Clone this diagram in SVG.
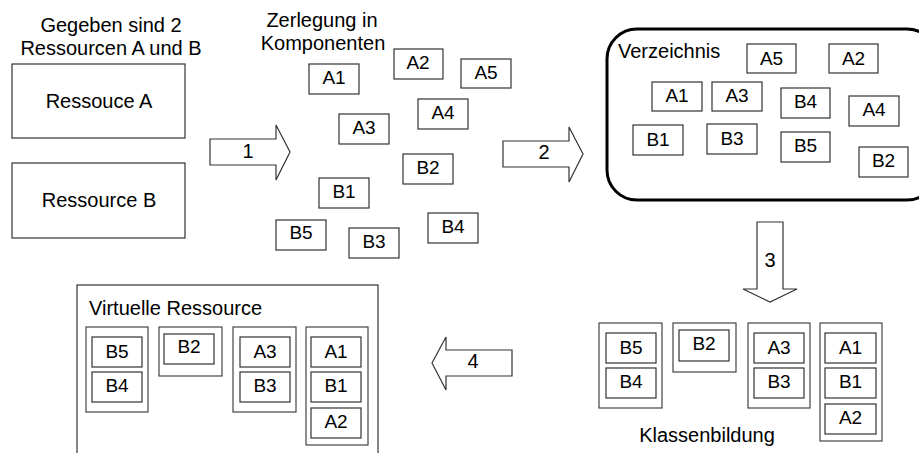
<svg xmlns="http://www.w3.org/2000/svg" width="919" height="453" viewBox="0 0 919 453">
  <style>
    text { font-family: "Liberation Sans", Arial, sans-serif; fill: #000; }
    .t { font-size: 20px; }
    .c { font-size: 19px; text-anchor: middle; }
    .box { fill: #fff; stroke: #333; stroke-width: 1.2; }
    .grp { fill: #fff; stroke: #444; stroke-width: 1.2; }
    .arrow { fill: #fff; stroke: #333; stroke-width: 1.2; stroke-linejoin: miter; }
  </style>

  <!-- Input resources -->
  <g id="intro">
    <text class="t" x="111" y="32" text-anchor="middle">Gegeben sind 2</text>
    <text class="t" x="111" y="55" text-anchor="middle">Ressourcen A und B</text>
  </g>
  <g id="ressource-a">
    <rect class="box" x="12" y="64" width="173" height="74"/>
    <text class="t" x="99" y="108" text-anchor="middle">Ressouce A</text>
  </g>
  <g id="ressource-b">
    <rect class="box" x="12" y="163" width="173" height="75"/>
    <text class="t" x="99" y="207" text-anchor="middle">Ressource B</text>
  </g>

  <!-- Decomposition into components -->
  <g id="zerlegung">
    <text class="t" x="322" y="27" text-anchor="middle">Zerlegung in</text>
    <text class="t" x="323" y="50" text-anchor="middle">Komponenten</text>
    <g id="z-a1"><rect class="box" x="309" y="64" width="50" height="30"/><text class="c" x="334" y="84">A1</text></g>
    <g id="z-a2"><rect class="box" x="394" y="49" width="49" height="30"/><text class="c" x="418" y="69">A2</text></g>
    <g id="z-a5"><rect class="box" x="461" y="59" width="50" height="29"/><text class="c" x="486" y="79">A5</text></g>
    <g id="z-a4"><rect class="box" x="418" y="99" width="50" height="30"/><text class="c" x="443" y="119">A4</text></g>
    <g id="z-a3"><rect class="box" x="339" y="114" width="50" height="30"/><text class="c" x="364" y="134">A3</text></g>
    <g id="z-b2"><rect class="box" x="403" y="154" width="50" height="30"/><text class="c" x="428" y="174">B2</text></g>
    <g id="z-b1"><rect class="box" x="319" y="178" width="50" height="30"/><text class="c" x="344" y="198">B1</text></g>
    <g id="z-b5"><rect class="box" x="276" y="220" width="50" height="30"/><text class="c" x="301" y="239">B5</text></g>
    <g id="z-b3"><rect class="box" x="349" y="228" width="50" height="30"/><text class="c" x="374" y="248">B3</text></g>
    <g id="z-b4"><rect class="box" x="428" y="213" width="50" height="30"/><text class="c" x="453" y="233">B4</text></g>
  </g>

  <!-- Directory -->
  <g id="verzeichnis">
    <rect x="607" y="29" width="330" height="171" rx="30" ry="30" fill="#fff" stroke="#000" stroke-width="3"/>
    <text class="t" x="618" y="58">Verzeichnis</text>
    <g id="v-a5"><rect class="box" x="747" y="44" width="49" height="29"/><text class="c" x="771.5" y="65">A5</text></g>
    <g id="v-a2"><rect class="box" x="829" y="44" width="49" height="29"/><text class="c" x="853.5" y="65">A2</text></g>
    <g id="v-a1"><rect class="box" x="652" y="82" width="50" height="29"/><text class="c" x="677" y="102">A1</text></g>
    <g id="v-a3"><rect class="box" x="712" y="82" width="50" height="29"/><text class="c" x="737" y="102">A3</text></g>
    <g id="v-b4"><rect class="box" x="781" y="88" width="49" height="30"/><text class="c" x="805.5" y="108">B4</text></g>
    <g id="v-a4"><rect class="box" x="849" y="96" width="50" height="30"/><text class="c" x="874" y="116">A4</text></g>
    <g id="v-b1"><rect class="box" x="633" y="125" width="50" height="30"/><text class="c" x="658" y="146">B1</text></g>
    <g id="v-b3"><rect class="box" x="707" y="124" width="50" height="30"/><text class="c" x="732" y="145">B3</text></g>
    <g id="v-b5"><rect class="box" x="781" y="132" width="49" height="30"/><text class="c" x="805.5" y="152">B5</text></g>
    <g id="v-b2"><rect class="box" x="859" y="147" width="49" height="30"/><text class="c" x="883.5" y="167">B2</text></g>
  </g>

  <!-- Class formation -->
  <g id="klassenbildung">
    <g id="k-g1">
      <rect class="grp" x="599" y="323" width="63" height="85"/>
      <rect class="box" x="606" y="333" width="50" height="30"/><text class="c" x="631" y="354">B5</text>
      <rect class="box" x="606" y="368" width="50" height="30"/><text class="c" x="631" y="388">B4</text>
    </g>
    <g id="k-g2">
      <rect class="grp" x="673" y="323" width="63" height="49"/>
      <rect class="box" x="679" y="330" width="50" height="31"/><text class="c" x="704" y="350">B2</text>
    </g>
    <g id="k-g3">
      <rect class="grp" x="748" y="323" width="62" height="85"/>
      <rect class="box" x="754" y="333" width="50" height="30"/><text class="c" x="779" y="354">A3</text>
      <rect class="box" x="754" y="368" width="50" height="30"/><text class="c" x="779" y="388">B3</text>
    </g>
    <g id="k-g4">
      <rect class="grp" x="820" y="323" width="62" height="118"/>
      <rect class="box" x="825" y="333" width="51" height="30"/><text class="c" x="850.5" y="354">A1</text>
      <rect class="box" x="825" y="368" width="51" height="30"/><text class="c" x="850.5" y="388">B1</text>
      <rect class="box" x="825" y="404" width="51" height="30"/><text class="c" x="850.5" y="424">A2</text>
    </g>
    <text class="t" x="707" y="442" text-anchor="middle">Klassenbildung</text>
  </g>

  <!-- Virtual resource -->
  <g id="virtuelle-ressource">
    <rect class="box" x="77" y="285" width="301" height="180"/>
    <text class="t" x="89" y="315">Virtuelle Ressource</text>
    <g id="vr-g1">
      <rect class="grp" x="86" y="327" width="62" height="85"/>
      <rect class="box" x="92" y="337" width="50" height="30"/><text class="c" x="117" y="358">B5</text>
      <rect class="box" x="92" y="372" width="50" height="30"/><text class="c" x="117" y="392">B4</text>
    </g>
    <g id="vr-g2">
      <rect class="grp" x="159" y="327" width="63" height="49"/>
      <rect class="box" x="164" y="334" width="50" height="30"/><text class="c" x="189" y="353">B2</text>
    </g>
    <g id="vr-g3">
      <rect class="grp" x="233" y="327" width="63" height="85"/>
      <rect class="box" x="240" y="337" width="50" height="30"/><text class="c" x="265" y="358">A3</text>
      <rect class="box" x="240" y="372" width="50" height="30"/><text class="c" x="265" y="392">B3</text>
    </g>
    <g id="vr-g4">
      <rect class="grp" x="306" y="327" width="62" height="118"/>
      <rect class="box" x="311" y="337" width="50" height="30"/><text class="c" x="336" y="358">A1</text>
      <rect class="box" x="311" y="372" width="50" height="30"/><text class="c" x="336" y="392">B1</text>
      <rect class="box" x="311" y="408" width="50" height="30"/><text class="c" x="336" y="428">A2</text>
    </g>
  </g>

  <!-- Block arrows between the steps -->
  <g id="connectors">
    <g id="arrow-1">
      <path class="arrow" d="M210,139 H276 V125 L290,152 L276,180 V165 H210 Z"/>
      <text class="t" x="248" y="158" text-anchor="middle">1</text>
    </g>
    <g id="arrow-2">
      <path class="arrow" d="M503,141 H569 V127 L583,154 L569,182 V167 H503 Z"/>
      <text class="t" x="544" y="159" text-anchor="middle">2</text>
    </g>
    <g id="arrow-3">
      <path class="arrow" d="M757,222 H783 V289 H797 L770,302 L743,289 H757 Z"/>
      <text class="t" x="770" y="267" text-anchor="middle">3</text>
    </g>
    <g id="arrow-4">
      <path class="arrow" d="M512,350 V376 H446 V390 L432,363 L446,337 V350 Z"/>
      <text class="t" x="473" y="368" text-anchor="middle">4</text>
    </g>
  </g>
</svg>
